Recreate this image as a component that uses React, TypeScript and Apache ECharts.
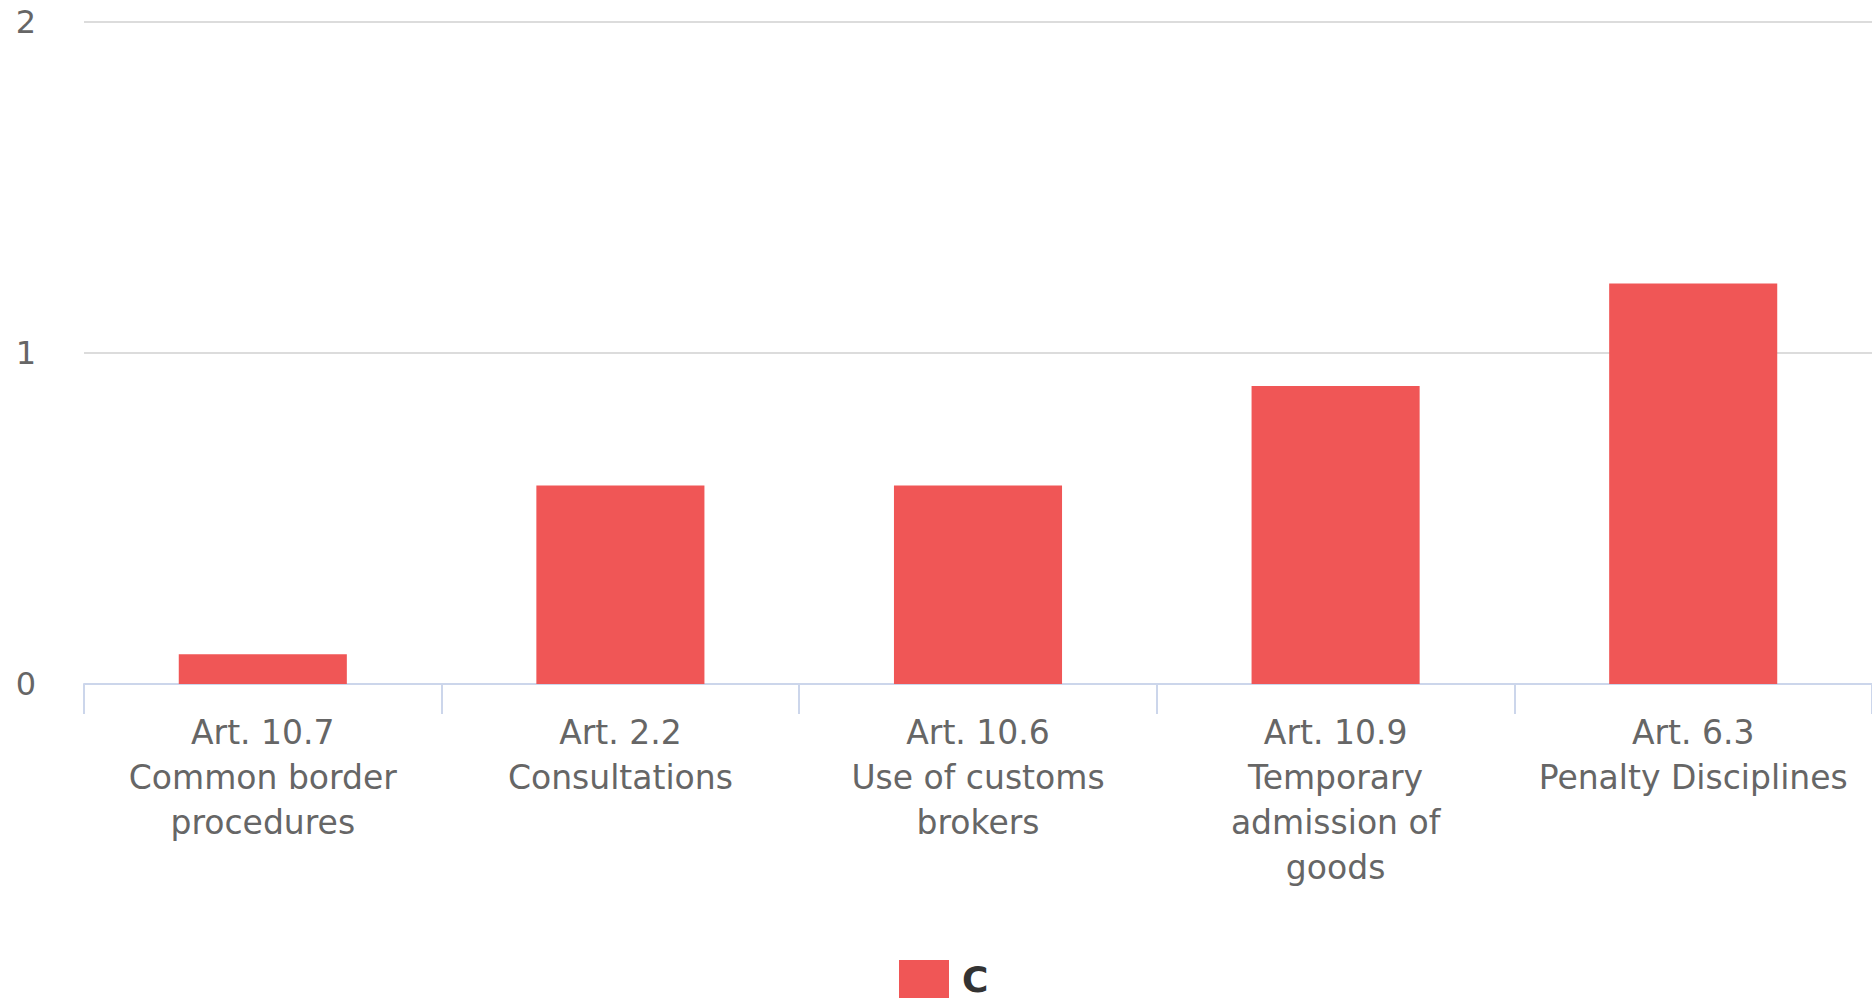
import React, { useEffect, useRef } from "react";
import * as echarts from "echarts";

const categories = [
  "Art. 10.7\nCommon border\nprocedures",
  "Art. 2.2\nConsultations",
  "Art. 10.6\nUse of customs\nbrokers",
  "Art. 10.9\nTemporary\nadmission of\ngoods",
  "Art. 6.3\nPenalty Disciplines",
];
const seriesName = "C";
const values = [0.09, 0.6, 0.6, 0.9, 1.21];
const yTicks = { min: 0, max: 2, interval: 1 };

export default function App() {
  const ref = useRef<HTMLDivElement>(null);
  useEffect(() => {
    document.body.style.margin = "0";
    const chart = echarts.init(ref.current!, null, { renderer: "svg" });
    chart.setOption({
      animation: false,
      textStyle: { fontFamily: "DejaVu Sans" },
      grid: { left: 84, right: 0, top: 22, bottom: 319, containLabel: false },
      legend: {
        bottom: 0,
        left: 894,
        itemWidth: 50,
        itemHeight: 38,
        itemGap: 10,
        icon: "rect",
        textStyle: {
          fontSize: 36,
          fontWeight: "bold",
          color: "#333",
          fontFamily: "DejaVu Sans",
          padding: [0, 0, 0, 8],
        },
        data: [seriesName],
      },
      xAxis: {
        type: "category",
        data: categories,
        axisLine: { lineStyle: { color: "#ccd6eb", width: 2 } },
        axisTick: { show: true, length: 30, interval: 0, lineStyle: { color: "#ccd6eb", width: 2 } },
        axisLabel: {
          interval: 0,
          color: "#666",
          fontSize: 33,
          lineHeight: 45,
          margin: 26,
          fontFamily: "DejaVu Sans",
        },
        splitLine: { show: false },
      },
      yAxis: {
        type: "value",
        min: yTicks.min,
        max: yTicks.max,
        interval: yTicks.interval,
        axisLine: { show: false },
        axisTick: { show: false },
        axisLabel: { color: "#666", fontSize: 32, margin: 48, fontFamily: "DejaVu Sans" },
        splitLine: { lineStyle: { color: "#dcdcdc", width: 2 } },
      },
      series: [
        {
          name: seriesName,
          type: "bar",
          data: values,
          barWidth: "47%",
          itemStyle: { color: "#f05656" },
        },
      ],
    });
    return () => chart.dispose();
  }, []);
  return (
    <div
      ref={ref}
      style={{ position: "absolute", left: 0, top: 0, width: 1872, height: 1003 }}
    />
  );
}
